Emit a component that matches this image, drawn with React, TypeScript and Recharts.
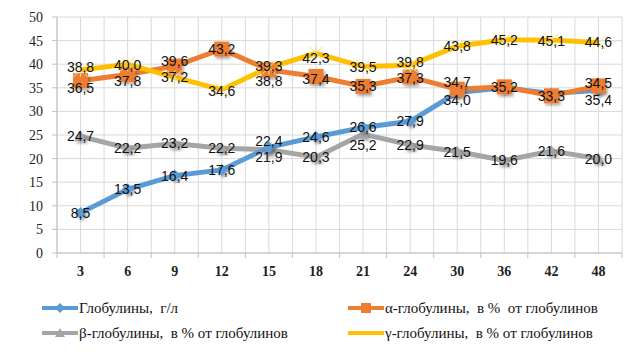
import React from 'react'
import { LineChart, Line, XAxis, YAxis, CartesianGrid, Legend, LabelList } from 'recharts'

// категории (месяцы) и значения серий
const months = ['3', '6', '9', '12', '15', '18', '21', '24', '30', '36', '42', '48']
const globulins = [8.5, 13.5, 16.4, 17.6, 22.4, 24.6, 26.6, 27.9, 34.0, 35.0, 33.8, 34.5]
const alphaGlob = [36.5, 37.8, 39.6, 43.2, 38.8, 37.4, 35.3, 37.3, 34.7, 35.2, 33.3, 35.4]
const betaGlob = [24.7, 22.2, 23.2, 22.2, 21.9, 20.3, 25.2, 22.9, 21.5, 19.6, 21.6, 20.0]
const gammaGlob = [38.8, 40.0, 37.2, 34.6, 39.3, 42.3, 39.5, 39.8, 43.8, 45.2, 45.1, 44.6]
const yTicks = [0, 5, 10, 15, 20, 25, 30, 35, 40, 45, 50]

const names = {
    glob: 'Глобулины,  г/л',
    alpha: 'α-глобулины,  в %  от глобулинов',
    beta: 'β-глобулины,  в % от глобулинов',
    gamma: 'γ-глобулины,  в % от глобулинов',
}

// сдвиг подписей по вертикали (null — подпись скрыта)
const globDy = [0, 0, 0, 0, -6, 0, 0, 0, 7, null, null, -7]
const alphaDy = [7, 6, -5, 0, 11, 3, 0, 1, -7, 0, 0, 14]
const betaDy = [0, 0, 0, 0, 7, 0, 11, 0, 0, 0, 0, 0]
const gammaDy = [-3, 1, 0, 1, -2, 5, 0, -3, 0, 0, 1, 0]

const data = months.map((m, i) => ({
    month: m,
    glob: globulins[i],
    alpha: alphaGlob[i],
    beta: betaGlob[i],
    gamma: gammaGlob[i],
}))

const W = 641
const H = 361
const M = { top: 17, right: 19, left: 0, bottom: 16 }
const Y_W = 57
const PLOT_W = W - M.left - M.right - Y_W
const BAND = PLOT_W / months.length

const BLUE = '#5b9bd5'
const ORANGE = '#ed7d31'
const GRAY = '#a5a5a5'
const YELLOW = '#ffc000'

const serif = "'Liberation Serif', 'Times New Roman', serif"
const sans = "'Liberation Sans', Arial, sans-serif"

const Diamond = (props: any) => {
    const { cx, cy } = props
    if (cx == null || cy == null) return null
    const s = 6
    return <polygon points={`${cx},${cy - s} ${cx + s},${cy} ${cx},${cy + s} ${cx - s},${cy}`} fill={BLUE} filter="url(#shadow)" />
}

const Square = (props: any) => {
    const { cx, cy } = props
    if (cx == null || cy == null) return null
    const s = 7.5
    return <rect x={cx - s} y={cy - s} width={s * 2} height={s * 2} fill={ORANGE} filter="url(#shadow)" />
}

const Triangle = (props: any) => {
    const { cx, cy } = props
    if (cx == null || cy == null) return null
    const s = 6
    return <polygon points={`${cx},${cy - s} ${cx + s},${cy + s * 0.8} ${cx - s},${cy + s * 0.8}`} fill={GRAY} filter="url(#shadow)" />
}

const Star = (props: any) => {
    const { cx, cy } = props
    if (cx == null || cy == null) return null
    const s = 7
    return (
        <g stroke="#ffe080" strokeWidth={1}>
            <line x1={cx - s} y1={cy - s} x2={cx + s} y2={cy + s} />
            <line x1={cx - s} y1={cy + s} x2={cx + s} y2={cy - s} />
            <line x1={cx} y1={cy - s} x2={cx} y2={cy + s} />
        </g>
    )
}

const makeLabel = (offsets: (number | null)[]) => (props: any) => {
    const vb = props.viewBox || {}
    const x = props.x ?? vb.x
    const y = props.y ?? vb.y
    const dy = offsets[props.index]
    if (dy == null || x == null || y == null) return null
    return (
        <text x={x} y={y + dy} textAnchor="middle" dominantBaseline="central" style={{ fontFamily: sans, fontSize: 14 }} fill="#111">
            {Number(props.value).toFixed(1).replace('.', ',')}
        </text>
    )
}

const XTick = (props: any) => {
    const { x, y, payload, index } = props
    const axisY = y - 13
    const left = x - BAND / 2
    return (
        <g>
            <line x1={left} y1={axisY} x2={left} y2={axisY + 5} stroke="#bfbfbf" />
            {index === months.length - 1 && <line x1={x + BAND / 2} y1={axisY} x2={x + BAND / 2} y2={axisY + 5} stroke="#bfbfbf" />}
            <text x={x} y={y} dy="0.71em" textAnchor="middle" style={{ fontFamily: serif, fontWeight: 'bold', fontSize: 14 }} fill="#222">
                {payload.value}
            </text>
        </g>
    )
}

const YTick = (props: any) => {
    const { x, y, payload } = props
    return (
        <text x={x} y={y} dy="0.355em" textAnchor="end" style={{ fontFamily: serif, fontSize: 14 }} fill="#222">
            {payload.value}
        </text>
    )
}

const legendItems = [
    { key: 'glob', color: BLUE, left: 42, top: 13, shape: 'diamond' },
    { key: 'alpha', color: ORANGE, left: 348, top: 13, shape: 'square' },
    { key: 'beta', color: GRAY, left: 42, top: 38, shape: 'triangle' },
    { key: 'gamma', color: YELLOW, left: 348, top: 38, shape: 'star' },
]

const renderLegend = () => (
    <div style={{ position: 'relative', width: W, height: 50 }}>
        {legendItems.map((it) => (
            <div key={it.key} style={{ position: 'absolute', left: it.left, top: it.top - 10, height: 20, display: 'flex', alignItems: 'center' }}>
                <svg width={36} height={12} style={{ marginRight: 1 }}>
                    <line x1={0} y1={6} x2={36} y2={6} stroke={it.color} strokeWidth={4} />
                    {it.shape === 'diamond' && <polygon points="18,1 23,6 18,11 13,6" fill={it.color} />}
                    {it.shape === 'square' && <rect x={13} y={1} width={10} height={10} fill={it.color} />}
                    {it.shape === 'triangle' && <polygon points="18,1 23,10 13,10" fill={it.color} />}
                </svg>
                <span style={{ fontFamily: serif, fontSize: 15, color: '#111', whiteSpace: 'pre' }}>{(names as any)[it.key]}</span>
            </div>
        ))}
    </div>
)

export default function App() {
    return (
        <div style={{ position: 'absolute', left: 0, top: 0, width: W, height: H, background: '#fff' }}>
            <LineChart width={W} height={H} data={data} margin={M}>
                <defs>
                    <filter id="shadow" x="-50%" y="-50%" width="200%" height="200%">
                        <feDropShadow dx={1.5} dy={2} stdDeviation={1.5} floodColor="#000" floodOpacity={0.35} />
                    </filter>
                </defs>
                <CartesianGrid
                    stroke="#d9d9d9"
                    verticalCoordinatesGenerator={({ offset }: any) =>
                        Array.from({ length: months.length * 2 + 1 }, (_, i) => offset.left + (offset.width / (months.length * 2)) * i)
                    }
                />
                <XAxis
                    dataKey="month"
                    scale="band"
                    stroke="#bfbfbf"
                    tickLine={false}
                    tickSize={5}
                    tickMargin={8}
                    height={42}
                    interval={0}
                    tick={<XTick />}
                />
                <YAxis
                    domain={[0, 50]}
                    ticks={yTicks}
                    width={Y_W}
                    stroke="#bfbfbf"
                    tickSize={5}
                    tickMargin={9}
                    tick={<YTick />}
                />
                <Legend verticalAlign="bottom" content={renderLegend} wrapperStyle={{ left: 0, width: W }} />
                <Line dataKey="beta" name={names.beta} stroke={GRAY} strokeWidth={5} dot={<Triangle />} activeDot={false} isAnimationActive={false} />
                <Line dataKey="glob" name={names.glob} stroke={BLUE} strokeWidth={5} dot={<Diamond />} activeDot={false} isAnimationActive={false} />
                <Line dataKey="alpha" name={names.alpha} stroke={ORANGE} strokeWidth={5} dot={<Square />} activeDot={false} isAnimationActive={false} />
                <Line dataKey="gamma" name={names.gamma} stroke={YELLOW} strokeWidth={5} dot={<Star />} activeDot={false} isAnimationActive={false} />
                {/* слой подписей поверх всех линий */}
                <Line dataKey="glob" stroke="none" dot={false} activeDot={false} legendType="none" isAnimationActive={false}>
                    <LabelList dataKey="glob" content={makeLabel(globDy)} />
                </Line>
                <Line dataKey="alpha" stroke="none" dot={false} activeDot={false} legendType="none" isAnimationActive={false}>
                    <LabelList dataKey="alpha" content={makeLabel(alphaDy)} />
                </Line>
                <Line dataKey="beta" stroke="none" dot={false} activeDot={false} legendType="none" isAnimationActive={false}>
                    <LabelList dataKey="beta" content={makeLabel(betaDy)} />
                </Line>
                <Line dataKey="gamma" stroke="none" dot={false} activeDot={false} legendType="none" isAnimationActive={false}>
                    <LabelList dataKey="gamma" content={makeLabel(gammaDy)} />
                </Line>
            </LineChart>
        </div>
    )
}
